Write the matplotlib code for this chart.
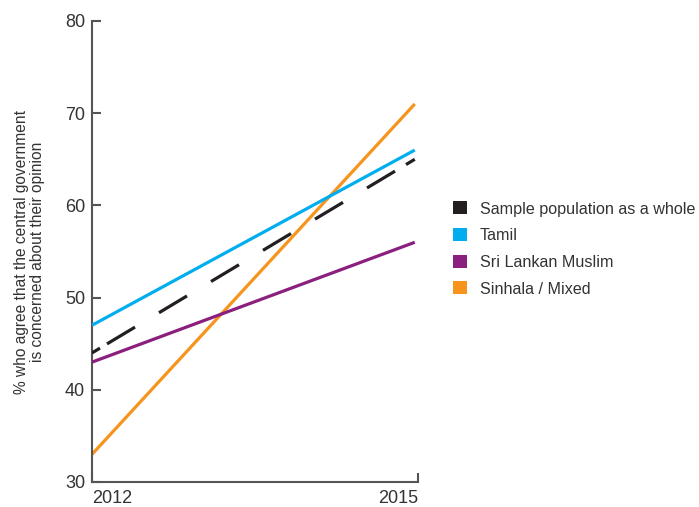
import matplotlib
matplotlib.use("Agg")
import matplotlib.pyplot as plt
from matplotlib.patches import Patch

plt.rcParams['font.family'] = ['Liberation Sans', 'DejaVu Sans']
plt.rcParams['lines.scale_dashes'] = False

years = [2012, 2015]
x_tick_labels = ["2012", "2015"]
series_names = ["Sample population as a whole", "Tamil", "Sri Lankan Muslim", "Sinhala / Mixed"]
sample_whole = [44, 65]
tamil = [47, 66]
muslim = [43, 56]
sinhala = [33, 71]
y_ticks = [30, 40, 50, 60, 70, 80]

colors = ["#231f20", "#00aeef", "#8b1f7e", "#f7941d"]
text_color = "#333333"
spine_color = "#555555"

fig = plt.figure(figsize=(6.99, 5.07), dpi=100)
ax = fig.add_axes([92/699, 1-482/507, (418-92)/699, (482-21)/507])

lw = 2.3
# dash pattern (points along the line)
f = 0.8396
dash_seq = [8, 7] + [28, 24]*5 + [28, 11, 12]
dash_seq = [d*f for d in dash_seq]

ax.plot(years, sinhala, color=colors[3], lw=lw, solid_capstyle='butt', zorder=2)
ax.plot(years, muslim, color=colors[2], lw=lw, solid_capstyle='butt', zorder=3)
ax.plot(years, sample_whole, color=colors[0], lw=lw, dashes=dash_seq, dash_capstyle='butt', zorder=4)
ax.plot(years, tamil, color=colors[1], lw=lw, solid_capstyle='butt', zorder=5)

xmax = 2015.03
ax.set_xlim(2012, xmax)
ax.set_ylim(30, 80)

ax.set_yticks(y_ticks)
ax.set_yticklabels([str(v) for v in y_ticks])
ax.set_xticks([2012, xmax])
ax.set_xticklabels(x_tick_labels)
for lab, ha in zip(ax.get_xticklabels(), ["left", "right"]):
    lab.set_ha(ha)

for s in ["top", "right"]:
    ax.spines[s].set_visible(False)
for s in ["left", "bottom"]:
    ax.spines[s].set_color(spine_color)
    ax.spines[s].set_linewidth(1.5)

ax.tick_params(axis='y', direction='in', length=6.5, width=1.5, color=spine_color,
               labelsize=13, labelcolor=text_color, pad=5)
ax.tick_params(axis='x', direction='in', length=6.5, width=1.5, color=spine_color,
               labelsize=13, labelcolor=text_color, pad=6)

ax.set_ylabel("% who agree that the central government\nis concerned about their opinion",
              fontsize=11.2, color=text_color, labelpad=14, linespacing=1.12)

handles = [Patch(facecolor=c, edgecolor='none') for c in colors]
leg = fig.legend(handles, series_names, loc='center left',
                 bbox_to_anchor=(453/699, 1-249/507), frameon=False,
                 fontsize=11.6, handlelength=0.86, handleheight=0.86,
                 handletextpad=0.8, labelspacing=0.72, borderpad=0, borderaxespad=0)
for t in leg.get_texts():
    t.set_color(text_color)

fig.savefig("out.png", dpi=100)
